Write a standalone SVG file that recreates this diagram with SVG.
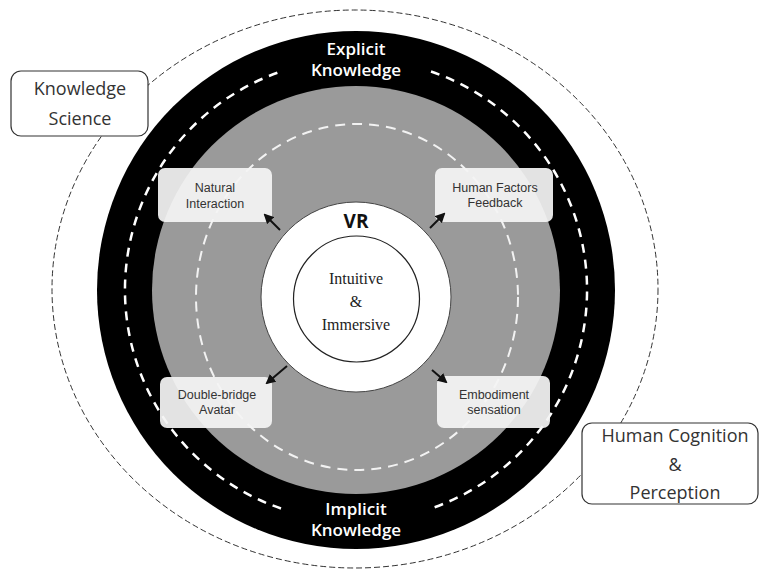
<svg xmlns="http://www.w3.org/2000/svg" width="759" height="574" viewBox="0 0 759 574">
<defs>
<style>
.sans{font-family:"Open Sans","Liberation Sans",sans-serif;}
.small{font-family:"Liberation Sans",Arial,sans-serif;font-size:12.5px;fill:#333;text-anchor:middle;}
.ring-lbl{font-family:"Open Sans","Liberation Sans",sans-serif;font-size:17px;font-weight:600;fill:#fff;text-anchor:middle;}
.side{font-family:"Open Sans","Liberation Sans",sans-serif;font-size:18px;fill:#333;text-anchor:middle;}
.sub{fill:#f4f4f4;fill-opacity:0.93;stroke:none;}
.side-box{fill:#fff;stroke:#333;stroke-width:1.2;}
.arrow{stroke:#111;stroke-width:2;fill:none;marker-end:url(#ah);}
</style>
<marker id="ah" viewBox="0 0 10 10" refX="8" refY="5" markerWidth="5" markerHeight="5" orient="auto">
<path d="M0,0 L10,5 L0,10 z" fill="#111"/>
</marker>
</defs>
<rect width="759" height="574" fill="#fff"/>
<g id="outer-ring">
<ellipse cx="355" cy="289" rx="303" ry="279" fill="none" stroke="#333" stroke-width="1" stroke-dasharray="6,3"/>
</g>
<g id="knowledge-ring">
<circle cx="356" cy="290" r="259" fill="#000"/>
<path d="M431,71.5 A231,231 0 0 1 431,508.5" fill="none" stroke="#fff" stroke-width="2.5" stroke-dasharray="9,7"/>
<path d="M281,508.5 A231,231 0 0 1 281,71.5" fill="none" stroke="#fff" stroke-width="2.5" stroke-dasharray="9,7"/>
<text class="ring-lbl" x="356" y="55">Explicit</text>
<text class="ring-lbl" x="356" y="76">Knowledge</text>
<text class="ring-lbl" x="356" y="515">Implicit</text>
<text class="ring-lbl" x="356" y="536">Knowledge</text>
</g>
<g id="vr-area">
<circle cx="356" cy="290" r="204" fill="#9a9a9a"/>
<ellipse cx="357" cy="297" rx="161" ry="173" fill="none" stroke="#f2f2f2" stroke-width="2" stroke-dasharray="10,7"/>
</g>
<g id="vr">
<circle cx="356" cy="297" r="95" fill="#fff" stroke="#444" stroke-width="1"/>
<circle cx="356.5" cy="299" r="63" fill="#fff" stroke="#222" stroke-width="1.2"/>
<text class="sans" x="356" y="228" font-size="19" font-weight="700" fill="#111" text-anchor="middle">VR</text>
<text x="356" y="284" font-family="'Liberation Serif','Times New Roman',serif" font-size="16" fill="#222" text-anchor="middle">Intuitive</text>
<text x="356" y="307" font-family="'Liberation Serif','Times New Roman',serif" font-size="16" fill="#222" text-anchor="middle">&amp;</text>
<text x="356" y="330" font-family="'Liberation Serif','Times New Roman',serif" font-size="16" fill="#222" text-anchor="middle">Immersive</text>
</g>
<g id="natural-interaction">
<rect class="sub" x="158" y="168" width="114" height="54" rx="7"/>
<text class="small" x="215" y="192">Natural</text>
<text class="small" x="215" y="208">Interaction</text>
</g>
<g id="human-factors-feedback">
<rect class="sub" x="435" y="168" width="118" height="54" rx="7"/>
<text class="small" x="495" y="192">Human Factors</text>
<text class="small" x="495" y="207">Feedback</text>
</g>
<g id="double-bridge-avatar">
<rect class="sub" x="160" y="377" width="112" height="51" rx="7"/>
<text class="small" x="217" y="399">Double-bridge</text>
<text class="small" x="217" y="414">Avatar</text>
</g>
<g id="embodiment-sensation">
<rect class="sub" x="437" y="376" width="113" height="52" rx="7"/>
<text class="small" x="494" y="399">Embodiment</text>
<text class="small" x="494" y="414">sensation</text>
</g>
<g id="knowledge-science">
<rect class="side-box" x="11" y="71" width="137" height="65" rx="10"/>
<text class="side" x="80" y="95">Knowledge</text>
<text class="side" x="80" y="125">Science</text>
</g>
<g id="human-cognition">
<rect class="side-box" x="582" y="423" width="176" height="81" rx="10"/>
<text class="side" x="675" y="442">Human Cognition</text>
<text class="side" x="675" y="471">&amp;</text>
<text class="side" x="675" y="499">Perception</text>
</g>
<g id="connectors">
<line class="arrow" x1="280" y1="230" x2="265" y2="215"/>
<line class="arrow" x1="430" y1="228" x2="444" y2="214"/>
<line class="arrow" x1="287" y1="366" x2="267" y2="383"/>
<line class="arrow" x1="432" y1="370" x2="446" y2="382"/>
</g>
</svg>
